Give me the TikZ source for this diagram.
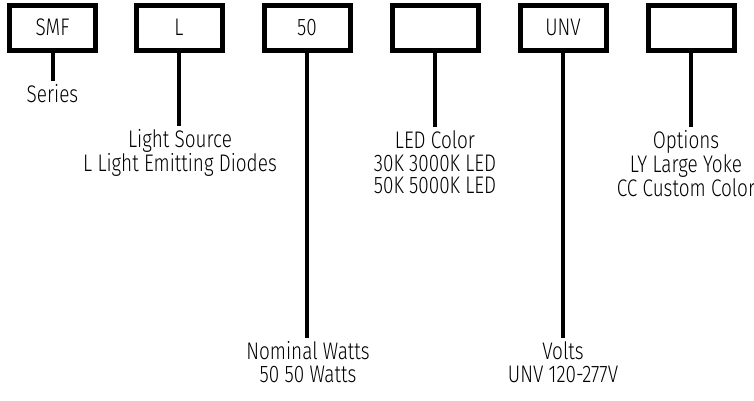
\documentclass[tikz,border=0pt]{standalone}
\usepackage{fontspec}
\setmainfont{Fira Sans Light}[FakeStretch=0.79]
\usetikzlibrary{positioning}

\begin{document}
\begin{tikzpicture}[x=1pt, y=-1pt,
    cle/.style={draw, line width=5pt, minimum width=86pt, minimum height=45pt,
      inner sep=0pt, font=\fontsize{24}{22.5}\selectfont},
    tige/.style={line width=4pt},
    leg/.style={anchor=north, align=center, inner xsep=0pt, inner ysep=3.5pt,
      font=\fontsize{24}{22.5}\selectfont}]

  \useasboundingbox (0,0) rectangle (754,400);

  % --- cases du code ---
  \node[cle] (serie)  at (52.5,27.5) {SMF};
  \node[cle] (source) at (179,27.5)  {L};
  \node[cle] (watts)  at (307,27.5)  {50};
  \node[cle] (teinte) at (435,27.5)  {};
  \node[cle] (volts)  at (563,27.5)  {UNV};
  \node[cle] (option) at (691,27.5)  {};

  % --- legendes ---
  \node[leg] (lserie)  at (52.5,81) {Series};
  \node[leg] (lsource) at (180,126) {Light Source\\L Light Emitting Diodes};
  \node[leg] (lwatts)  at (308,338) {Nominal Watts\\50 50 Watts};
  \node[leg] (lteinte) at (435,127) {LED Color\\30K 3000K LED\\50K 5000K LED};
  \node[leg] (lvolts)  at (563,338) {Volts\\UNV 120-277V};
  \node[leg] (loption) at (686,127) {Options\\LY Large Yoke\\CC Custom Color};

  % --- tiges ---
  \foreach \c/\l in {serie/lserie, source/lsource, watts/lwatts,
                     teinte/lteinte, volts/lvolts, option/loption}
    \draw[tige] (\c.south) -- (\c.south |- \l.north);
\end{tikzpicture}
\end{document}
